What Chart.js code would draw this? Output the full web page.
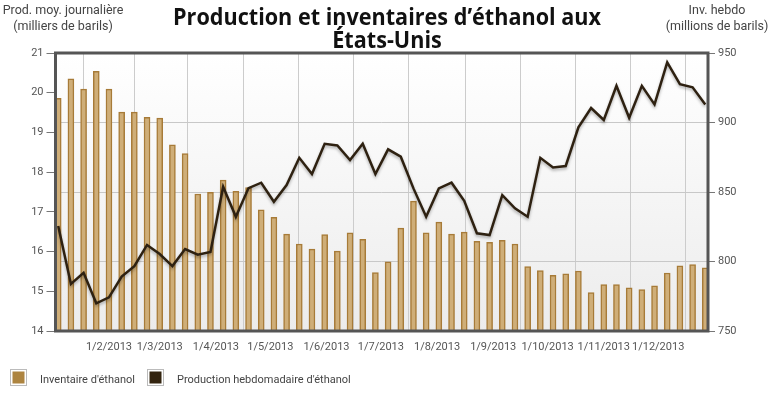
<!DOCTYPE html>
<html>
<head>
<meta charset="utf-8">
<script src="https://cdn.jsdelivr.net/npm/chart.js@4"></script>
<style>
  body { margin: 0; background: #fff; }
</style>
</head>
<body>
<canvas id="myChart" width="774" height="399"></canvas>
<script>
// semaines de 2013 (jour de l'année, 1er janv = 0, vendredis)
const weekDays = Array.from({ length: 52 }, (_, i) => 3 + 7 * i);

// début de chaque mois et étiquettes de l'axe x
const monthStarts = [31, 59, 90, 120, 151, 181, 212, 243, 273, 304, 334];
const monthLabels = ['1/2/2013', '1/3/2013', '1/4/2013', '1/5/2013', '1/6/2013', '1/7/2013',
  '1/8/2013', '1/9/2013', '1/10/2013', '1/11/2013', '1/12/2013'];

// barres (axe de gauche)
const inventaire = [19.86, 20.35, 20.09, 20.54, 20.09, 19.51, 19.51, 19.38, 19.36, 18.69,
  18.47, 17.45, 17.49, 17.80, 17.52, 17.61, 17.05, 16.86, 16.44, 16.19,
  16.06, 16.43, 16.01, 16.47, 16.31, 15.47, 15.74, 16.59, 17.27, 16.47,
  16.74, 16.44, 16.49, 16.26, 16.23, 16.28, 16.19, 15.62, 15.52, 15.40,
  15.44, 15.51, 14.97, 15.17, 15.17, 15.09, 15.04, 15.14, 15.46, 15.64,
  15.67, 15.59];

// ligne (axe de droite)
const production = [825.5, 783.8, 791.9, 769.9, 774.2, 789.1, 796.7, 811.9, 805.4, 796.7,
  809.0, 804.9, 806.8, 853.8, 832.2, 852.8, 856.7, 843.0, 855.0, 874.6,
  862.9, 884.7, 883.5, 873.0, 884.7, 862.9, 880.7, 875.4, 852.6, 832.2,
  852.6, 856.7, 843.7, 820.3, 819.0, 847.8, 838.2, 832.2, 874.6, 867.7,
  868.7, 896.5, 910.4, 901.8, 926.4, 903.4, 926.4, 913.0, 943.2, 927.6,
  925.3, 913.0];

const titleLines = ['Production et inventaires d\u2019éthanol aux', 'États-Unis'];
const leftTitle = ['Prod. moy. journalière', '(milliers de barils)'];
const rightTitle = ['Inv. hebdo', '(millions de barils)'];

const textFont = '12.5px Roboto';

// fond dégradé, titres, cadre et légende
const decor = {
  id: 'decor',
  beforeDraw(chart) {
    const { ctx, chartArea: a } = chart;
    const g = ctx.createLinearGradient(0, a.top, 0, a.bottom);
    g.addColorStop(0, '#ffffff');
    g.addColorStop(1, '#ececec');
    ctx.save();
    ctx.fillStyle = g;
    ctx.fillRect(a.left, a.top, a.right - a.left, a.bottom - a.top);
    ctx.restore();
  },
  beforeDatasetDraw(chart, args) {
    if (args.meta.type === 'line') {
      chart.ctx.save();
      chart.ctx.shadowColor = 'rgba(0,0,0,0.3)';
      chart.ctx.shadowBlur = 3;
      chart.ctx.shadowOffsetY = 2;
    }
  },
  afterDatasetDraw(chart, args) {
    if (args.meta.type === 'line') chart.ctx.restore();
  },
  afterDraw(chart) {
    const { ctx, chartArea: a } = chart;
    ctx.save();
    // cadre
    ctx.strokeStyle = '#555';
    ctx.lineWidth = 3;
    ctx.strokeRect(a.left, a.top, a.right - a.left, a.bottom - a.top);

    // titre principal
    ctx.fillStyle = '#111';
    ctx.font = 'bold 23px "Open Sans"';
    ctx.textAlign = 'left';
    ctx.textBaseline = 'alphabetic';
    const k = 428 / ctx.measureText(titleLines[0]).width;
    titleLines.forEach((t, i) => {
      const w = ctx.measureText(t).width * k;
      ctx.save();
      ctx.translate(387 - w / 2, 25 + i * 23);
      ctx.scale(k, 1);
      ctx.fillText(t, 0, 0);
      ctx.restore();
    });

    // titres des axes
    ctx.font = textFont;
    ctx.fillStyle = '#444';
    ctx.textAlign = 'center';
    ctx.textBaseline = 'middle';
    leftTitle.forEach((t, i) => ctx.fillText(t, 63, 11 + i * 16));
    rightTitle.forEach((t, i) => ctx.fillText(t, 717, 11 + i * 16));

    // légende
    const items = [
      { x: 11, tx: 40, color: '#ad8440', label: chart.data.datasets[0].label },
      { x: 148, tx: 177, color: '#33240f', label: chart.data.datasets[1].label }
    ];
    ctx.font = '11px Roboto';
    ctx.textAlign = 'left';
    items.forEach(it => {
      ctx.fillStyle = '#fff';
      ctx.fillRect(it.x, 370, 15, 15);
      ctx.strokeStyle = '#bbb';
      ctx.lineWidth = 1;
      ctx.strokeRect(it.x - 0.5, 369.5, 16, 16);
      ctx.fillStyle = it.color;
      ctx.fillRect(it.x + 1.5, 371.5, 12, 12);
      ctx.fillStyle = '#444';
      ctx.fillText(it.label, it.tx, 380);
    });
    ctx.restore();
  }
};

const chartArea = document.getElementById('myChart').getContext('2d');

new Chart(chartArea, {
  type: 'bar',
  data: {
    datasets: [
      {
        label: 'Inventaire d\'éthanol',
        data: weekDays.map((d, i) => ({ x: d, y: inventaire[i] })),
        backgroundColor: '#cfae78',
        borderColor: '#a77b38',
        borderWidth: 1.5,
        barThickness: 6,
        yAxisID: 'yL',
        order: 2
      },
      {
        type: 'line',
        label: 'Production hebdomadaire d\'éthanol',
        data: weekDays.map((d, i) => ({ x: d, y: production[i] })),
        borderColor: '#2e2111',
        borderWidth: 2.5,
        pointRadius: 0,
        tension: 0,
        yAxisID: 'yR',
        order: 1
      }
    ]
  },
  plugins: [decor],
  options: {
    responsive: false,
    animation: false,
    devicePixelRatio: 1,
    layout: { padding: { top: 53 } },
    plugins: {
      legend: { display: false },
      title: { display: false },
      tooltip: { enabled: false }
    },
    scales: {
      x: {
        type: 'linear',
        offset: false,
        min: 1.5,
        max: 361.5,
        afterBuildTicks: s => { s.ticks = monthStarts.map(v => ({ value: v })); },
        afterFit: s => { s.height = 68; },
        border: { display: false },
        grid: { color: '#cccccc', tickLength: 8, tickColor: 'rgba(0,0,0,0)' },
        ticks: {
          autoSkip: false,
          maxRotation: 0,
          padding: 2,
          color: '#555',
          font: { family: 'Roboto', size: 11 },
          callback: v => monthLabels[monthStarts.indexOf(v)] || ''
        }
      },
      yL: {
        position: 'left',
        min: 14,
        max: 21,
        afterFit: s => { s.width = 55.5; },
        border: { display: false },
        grid: { drawOnChartArea: false, tickLength: 9, tickColor: '#777' },
        ticks: { stepSize: 1, padding: 3, color: '#555', font: { family: 'Roboto', size: 11 } }
      },
      yR: {
        position: 'right',
        min: 750,
        max: 950,
        afterFit: s => { s.width = 66; },
        border: { display: false },
        grid: { color: '#c8c8c8', tickLength: 7, tickColor: '#777' },
        ticks: { stepSize: 50, padding: 3, color: '#555', font: { family: 'Roboto', size: 11 } }
      }
    }
  }
});
</script>
</body>
</html>
